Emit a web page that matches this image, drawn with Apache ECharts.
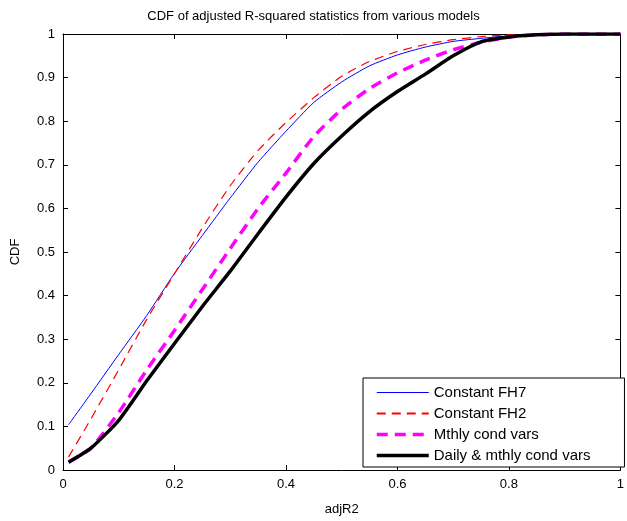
<!DOCTYPE html>
<html>
<head>
<meta charset="utf-8">
<script src="https://cdn.jsdelivr.net/npm/echarts@6/dist/echarts.min.js"></script>
<style>html,body{margin:0;padding:0;background:#fff}#c{width:627px;height:521px}</style>
</head>
<body>
<div id="c"></div>
<script>
var xs = [0.01, 0.05, 0.1, 0.15, 0.2, 0.25, 0.3, 0.35, 0.4, 0.45, 0.5, 0.55, 0.6, 0.65, 0.7, 0.75, 0.8, 0.85, 0.9, 0.95, 1.0];
var fh7   = [0.104, 0.175, 0.265, 0.354, 0.451, 0.538, 0.624, 0.706, 0.777, 0.843, 0.89, 0.927, 0.952, 0.97, 0.983, 0.99, 0.996, 0.998, 0.999, 1, 1];
var fh2   = [0.03, 0.117, 0.23, 0.345, 0.45, 0.555, 0.652, 0.733, 0.797, 0.854, 0.903, 0.937, 0.96, 0.976, 0.987, 0.994, 0.998, 0.999, 1, 1, 1];
var mthly = [0.018, 0.05, 0.132, 0.229, 0.32, 0.414, 0.508, 0.6, 0.681, 0.765, 0.827, 0.875, 0.911, 0.94, 0.964, 0.981, 0.993, 0.998, 1, 1, 1];
var daily = [0.018, 0.05, 0.114, 0.204, 0.29, 0.375, 0.456, 0.542, 0.626, 0.703, 0.766, 0.822, 0.868, 0.908, 0.95, 0.982, 0.993, 0.998, 1, 1, 1];
var seriesNames = ['Constant FH7', 'Constant FH2', 'Mthly cond vars', 'Daily & mthly cond vars'];
var xTicks = [0, 0.2, 0.4, 0.6, 0.8, 1];
var yTicks = [0, 0.1, 0.2, 0.3, 0.4, 0.5, 0.6, 0.7, 0.8, 0.9, 1];

function pairs(ys) { return xs.map(function (x, i) { return [x, ys[i]]; }); }
var font = 'Liberation Sans, Arial, sans-serif';
var chart = echarts.init(document.getElementById('c'), null, {renderer: 'canvas'});
var axisCommon = {
  axisLine: {show: true, onZero: false, lineStyle: {color: '#000', width: 1}},
  axisTick: {show: true, inside: true, length: 5, lineStyle: {color: '#000'}},
  splitLine: {show: false}
};
function fmt(v) { return String(+(+v).toFixed(1)); }
var colors = ['#0000ff', '#ff0000', '#ff00ff', '#000000'];
var widths = [1, 1.2, 3.5, 3.5];
var dashes = ['solid', [9, 6], [11, 7], 'solid'];
var seriesData = [fh7, fh2, mthly, daily];
chart.setOption({
  animation: false,
  backgroundColor: '#fff',
  title: {
    text: 'CDF of adjusted R-squared statistics from various models',
    left: 'center', top: 5,
    textStyle: {fontFamily: font, fontSize: 13, fontWeight: 'normal', color: '#000'}
  },
  grid: {left: 63, right: 1, top: 34, bottom: 45, show: false},
  legend: {
    orient: 'vertical', left: 363, top: 378,
    padding: [7, 34, 4, 12], itemGap: 6, itemWidth: 52, itemHeight: 14,
    borderColor: '#000', borderWidth: 1, backgroundColor: '#fff', borderRadius: 0,
    itemStyle: {opacity: 0},
    lineStyle: {width: 'inherit'},
    textStyle: {fontFamily: font, fontSize: 15, color: '#000'},
    data: seriesNames.map(function (n, i) {
      return i === 1 ? {name: n, lineStyle: {width: 2}} : {name: n};
    })
  },
  xAxis: [
    Object.assign({type: 'value', min: 0, max: 1, interval: 0.2, position: 'bottom',
      name: 'adjR2', nameLocation: 'middle', nameGap: 33,
      nameTextStyle: {fontFamily: font, fontSize: 13, color: '#000'},
      axisLabel: {fontFamily: font, fontSize: 13, color: '#000', margin: 8, formatter: fmt}}, axisCommon),
    Object.assign({type: 'value', min: 0, max: 1, interval: 0.2, position: 'top',
      axisLabel: {show: false}}, axisCommon)
  ],
  yAxis: [
    Object.assign({type: 'value', min: 0, max: 1, interval: 0.1, position: 'left',
      name: 'CDF', nameLocation: 'middle', nameGap: 41, nameRotate: 90,
      nameTextStyle: {fontFamily: font, fontSize: 13, color: '#000'},
      axisLabel: {fontFamily: font, fontSize: 13, color: '#000', margin: 8, formatter: fmt}}, axisCommon),
    Object.assign({type: 'value', min: 0, max: 1, interval: 0.1, position: 'right',
      axisLabel: {show: false}}, axisCommon)
  ],
  series: seriesNames.map(function (n, i) {
    return {name: n, type: 'line', data: pairs(seriesData[i]), symbol: 'none', smooth: 0.2,
      lineStyle: {color: colors[i], width: widths[i], type: dashes[i]},
      itemStyle: {color: colors[i]}};
  })
});
</script>
</body>
</html>
